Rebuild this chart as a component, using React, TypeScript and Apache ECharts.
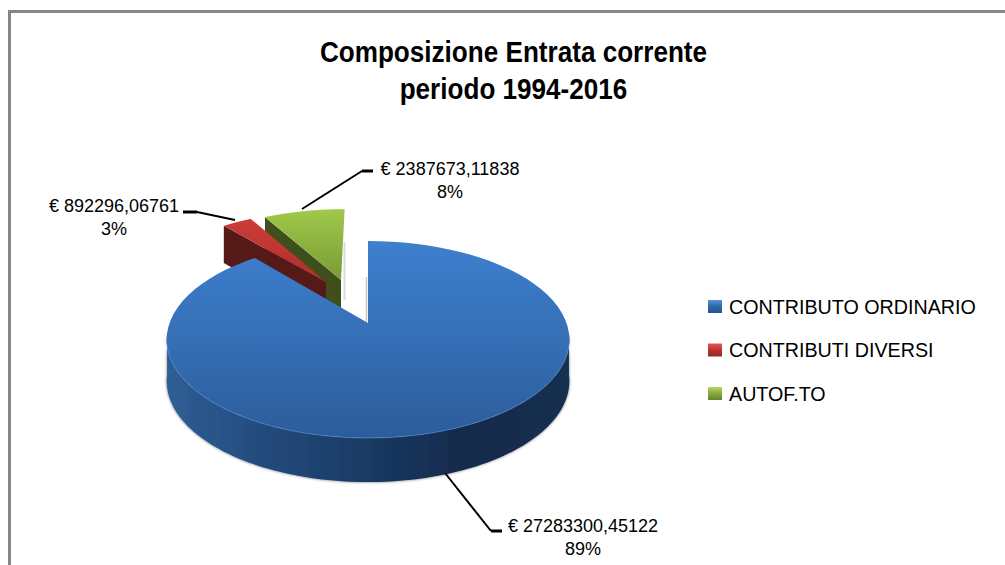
import React, { useEffect, useRef } from "react";
import * as echarts from "echarts";

const categories = ["CONTRIBUTO ORDINARIO", "CONTRIBUTI DIVERSI", "AUTOF.TO"];
const values = [27283300.45122, 892296.06761, 2387673.11838];
const valueTexts = ["27283300,45122", "892296,06761", "2387673,11838"];

const TITLE = "Composizione Entrata corrente\nperiodo 1994-2016";
const FONT = '"Liberation Sans", Arial, sans-serif';

// perspective projection of the pie plane
const AX = 368, AY = 323, RX = 198.5, RY = 95.7, K = 0.1675;
const project = (u: number, v: number): [number, number] => {
  const w = 1 + K * v;
  return [AX + (RX * u) / w, AY - (RY * v) / w];
};
const depthAt = (v: number) => 41 - 3.1 * v;
const rad = (d: number) => (d * Math.PI) / 180;

// slice explosion in pie-plane units, and small rotation of slice edges
const explodeU = [0, -0.228, -0.147];
const explodeV = [0, 0.461, 0.486];
const startShift = [0, -1.7, -1.2];
const endShift = [-1.4, -1.5, 0];

const total = values.reduce((a, b) => a + b, 0);
const starts: number[] = [];
const ends: number[] = [];
values.reduce((acc, x, i) => {
  const next = acc + (x / total) * 360;
  starts[i] = acc + startShift[i];
  ends[i] = next + endShift[i];
  return next;
}, 0);

const lg = (x0: number, y0: number, x1: number, y1: number, stops: [number, string][]) =>
  new echarts.graphic.LinearGradient(x0, y0, x1, y1, stops.map(([offset, color]) => ({ offset, color })));

const topFills = [
  () => lg(0, 0, 0, 1, [[0, "#3e7fcf"], [0.5, "#356fb6"], [1, "#2c5c9a"]]),
  () => lg(0, 0, 0, 1, [[0, "#cc3b38"], [1, "#b02f2c"]]),
  () => lg(0, 0, 0, 1, [[0, "#a0c94a"], [1, "#7a9a36"]]),
];
const sideFills = ["#1a3a63", "#551a17", "#3f4f1c"];
const legendFills = [
  () => lg(0, 0, 0, 1, [[0, "#5b93d8"], [0.5, "#2f66aa"], [1, "#27548c"]]),
  () => lg(0, 0, 0, 1, [[0, "#dc5a55"], [0.5, "#c0322f"], [1, "#8f2a28"]]),
  () => lg(0, 0, 0, 1, [[0, "#b5d766"], [0.5, "#86a83c"], [1, "#67812f"]]),
];

// label layout per slice: text centre, first line y, leader points
const labelX = [583, 114, 450];
const labelY = [525, 205, 168];
const leaders: [number, number][][] = [
  [[445, 473], [491, 531], [502, 531]],
  [[235, 220], [197, 212], [183, 212]],
  [[302, 209], [362, 171], [373, 171]],
];

function arc(i: number, a0: number, a1: number, steps = 80) {
  const pts: { u: number; v: number }[] = [];
  for (let s = 0; s <= steps; s++) {
    const a = rad(a0 + ((a1 - a0) * s) / steps);
    pts.push({ u: explodeU[i] + Math.sin(a), v: explodeV[i] + Math.cos(a) });
  }
  return pts;
}

function renderSlice(i: number) {
  const children: any[] = [];
  const apex = project(explodeU[i], explodeV[i]);
  const top = arc(i, starts[i], ends[i]).map((p) => project(p.u, p.v));

  if (i === 0) {
    const front = arc(i, 96, 264, 120);
    const upper = front.map((p) => project(p.u, p.v));
    const lower = front.map((p) => {
      const q = project(p.u, p.v);
      return [q[0], q[1] + depthAt(p.v)];
    });
    children.push({
      type: "polygon",
      shape: { points: [...upper, ...lower.reverse()] },
      style: {
        fill: lg(0, 0, 1, 0, [
          [0, "#2f5e95"],
          [0.25, "#234a7c"],
          [0.5, "#1a3a63"],
          [0.75, "#13294a"],
          [1, "#16304f"],
        ]),
        shadowBlur: 3,
        shadowColor: "rgba(0,0,0,0.55)",
      },
    });
    // thin shadow along the cut of the pie
    children.push({
      type: "polyline",
      shape: { points: [[apex[0] - 1.5, apex[1] - 46], [apex[0] - 1.5, apex[1]]] },
      style: { fill: "none", stroke: "#c4c4c4", lineWidth: 1.5 },
    });
  } else {
    const a = rad(starts[i]);
    const uE = explodeU[i] + Math.sin(a);
    const vE = explodeV[i] + Math.cos(a);
    const corner = project(uE, vE);
    children.push({
      type: "polygon",
      shape: {
        points: [
          corner,
          apex,
          [apex[0], apex[1] + depthAt(explodeV[i])],
          [corner[0], corner[1] + depthAt(vE)],
        ],
      },
      style: { fill: sideFills[i] },
    });
    if (i === 2) {
      children.push({
        type: "polyline",
        shape: { points: [[apex[0] + 3.5, apex[1] - 38], [apex[0] + 3.5, apex[1] + 20]] },
        style: { fill: "none", stroke: "#dcdcdc", lineWidth: 2 },
      });
    }
  }

  children.push({
    type: "polygon",
    shape: { points: [apex, ...top] },
    style: { fill: topFills[i]() },
  });

  if (i === 0) {
    children.push({
      type: "polyline",
      shape: { points: arc(i, 100, 260, 100).map((p) => project(p.u, p.v)) },
      style: { fill: "none", stroke: "#4a86cf", lineWidth: 1, opacity: 0.7 },
    });
  }

  const lead = leaders[i];
  children.push({
    type: "polyline",
    shape: { points: lead.slice(0, 2) },
    style: { fill: "none", stroke: "#000", lineWidth: 2 },
  });
  children.push({
    type: "polyline",
    shape: { points: lead.slice(1) },
    style: { fill: "none", stroke: "#000", lineWidth: 3 },
  });
  children.push({
    type: "text",
    style: {
      text: `€ ${valueTexts[i]}\n${Math.round((values[i] / total) * 100)}%`,
      x: labelX[i],
      y: labelY[i] - 11,
      fill: "#000",
      font: `18px ${FONT}`,
      align: "center",
      verticalAlign: "top",
      lineHeight: 23,
    },
  });
  return { type: "group", children };
}

export default function App() {
  const ref = useRef<HTMLDivElement>(null);
  useEffect(() => {
    const chart = echarts.init(ref.current!, undefined, { renderer: "svg" });
    chart.setOption({
      animation: false,
      backgroundColor: "#fff",
      legend: {
        orient: "vertical",
        left: 703,
        top: 291,
        itemWidth: 14,
        itemHeight: 13,
        itemGap: 22.5,
        icon: "rect",
        selectedMode: false,
        data: categories.map((name, i) => ({ name, itemStyle: { color: legendFills[i]() } })),
        textStyle: { fontFamily: FONT, fontSize: 19.7, color: "#000", padding: [0, 0, 0, 2], lineHeight: 21 },
      },
      graphic: [
        {
          type: "rect",
          z: -1,
          shape: { x: 9.5, y: 11.5, width: 1100, height: 700 },
          style: { fill: "none", stroke: "#868686", lineWidth: 3 },
        },
        {
          type: "text",
          x: 513.5,
          y: 34,
          scaleX: 0.9,
          style: {
            text: TITLE,
            font: `bold 29px ${FONT}`,
            fill: "#000",
            align: "center",
            verticalAlign: "top",
            lineHeight: 37,
          },
        },
      ],
      series: categories.map((name, i) => ({
        type: "custom",
        name,
        coordinateSystem: "none",
        z: 4 - i,
        silent: true,
        itemStyle: { color: ["#2f66aa", "#c0322f", "#86a83c"][i] },
        data: [[values[i]]],
        renderItem: () => renderSlice(i),
      })),
    });
    return () => chart.dispose();
  }, []);
  return <div ref={ref} style={{ position: "absolute", left: 0, top: 0, width: 1005, height: 565 }} />;
}
